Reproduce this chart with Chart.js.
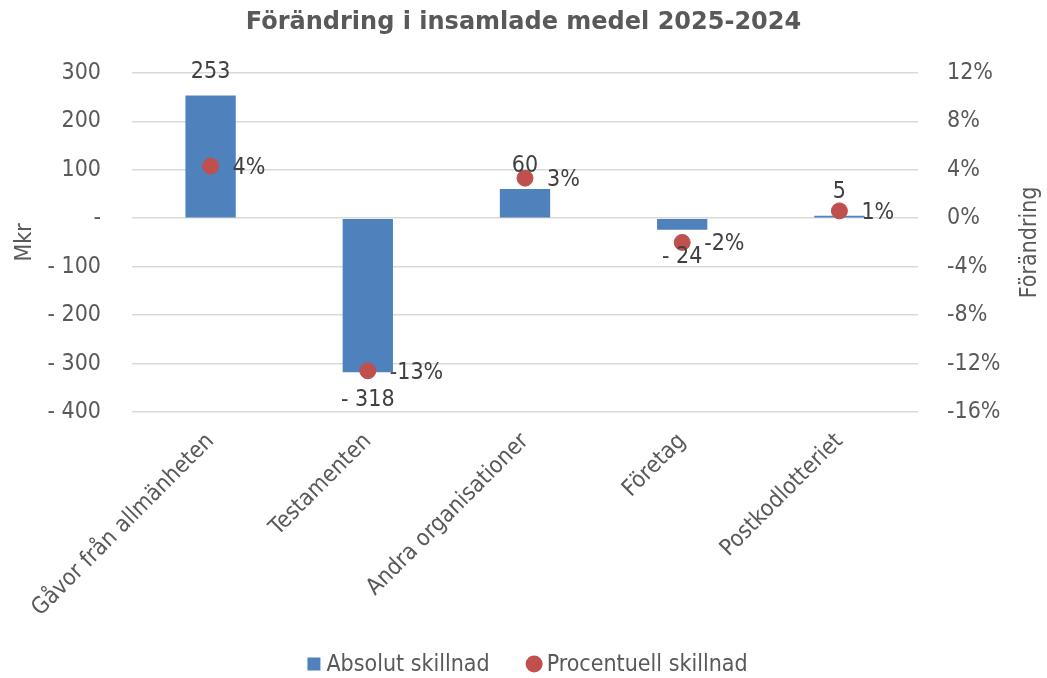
<!DOCTYPE html>
<html lang="sv">
<head>
<meta charset="utf-8">
<script src="https://cdn.jsdelivr.net/npm/chart.js@4/dist/chart.umd.min.js"></script>
<style>
  html, body { margin: 0; padding: 0; background: #fff; }
  #wrap { width: 1047px; height: 678px; position: relative; }
</style>
</head>
<body>
<div id="wrap"><canvas id="chart"></canvas></div>
<script>
// --- DATA ---
const categories = ['Gåvor från allmänheten', 'Testamenten', 'Andra organisationer', 'Företag', 'Postkodlotteriet'];
const absolutSkillnad = [253, -318, 60, -24, 5];          // Mkr
const procentuellSkillnad = [4.3, -12.6, 3.3, -2.0, 0.6]; // %
const procentEtiketter = ['4%', '-13%', '3%', '-2%', '1%'];

const FONT = '"DejaVu Sans Condensed", "DejaVu Sans", sans-serif';
const GREY = '#595959';
const SIZE = 23;
const BLUE = '#4F81BD';
const RED = '#C0504D';

// Etiketter för staplar, punkter, axeltitlar och förklaring
const dataLabels = {
  id: 'dataLabels',
  afterDraw(chart) {
    const ctx = chart.ctx;
    const area = chart.chartArea;
    ctx.save();
    ctx.font = SIZE + 'px ' + FONT;
    ctx.fillStyle = '#404040';

    chart.getDatasetMeta(0).data.forEach((bar, i) => {
      const v = absolutSkillnad[i];
      ctx.textAlign = 'center';
      if (v >= 0) {
        ctx.textBaseline = 'bottom';
        ctx.fillText(String(v), bar.x, bar.y - 12);
      } else {
        ctx.textBaseline = 'top';
        ctx.fillText('- ' + Math.abs(v), bar.x, bar.y + 16);
      }
    });

    chart.getDatasetMeta(1).data.forEach((pt, i) => {
      ctx.textAlign = 'left';
      ctx.textBaseline = 'middle';
      ctx.fillText(procentEtiketter[i], pt.x + 22, pt.y + 2);
    });

    // axeltitlar, båda läses nerifrån och upp
    ctx.fillStyle = GREY;
    ctx.textAlign = 'center';
    ctx.textBaseline = 'middle';
    const midY = (area.top + area.bottom) / 2;
    [[25, 'Mkr'], [1030, 'Förändring']].forEach(([x, t]) => {
      ctx.save();
      ctx.translate(x, midY);
      ctx.rotate(-Math.PI / 2);
      ctx.fillText(t, 0, 0);
      ctx.restore();
    });

    // förklaring längst ner
    const l1 = chart.data.datasets[0].label;
    const l2 = chart.data.datasets[1].label;
    const w1 = ctx.measureText(l1).width;
    const w2 = ctx.measureText(l2).width;
    const total = 13 + 6 + w1 + 36 + 17 + 4 + w2;
    let x = chart.width / 2 - total / 2 + 4;
    const y = 664;
    ctx.textAlign = 'left';
    ctx.fillStyle = BLUE;
    ctx.fillRect(x, y - 6.5, 13, 13);
    x += 19;
    ctx.fillStyle = GREY;
    ctx.fillText(l1, x, y + 1);
    x += w1 + 36;
    ctx.fillStyle = RED;
    ctx.beginPath();
    ctx.arc(x + 8.5, y, 8.5, 0, Math.PI * 2);
    ctx.fill();
    x += 21;
    ctx.fillStyle = GREY;
    ctx.fillText(l2, x, y + 1);
    ctx.restore();
  }
};

const chart = new Chart(document.getElementById('chart'), {
  type: 'bar',
  data: {
    labels: categories,
    datasets: [
      {
        type: 'bar',
        label: 'Absolut skillnad',
        data: absolutSkillnad,
        yAxisID: 'y',
        backgroundColor: BLUE,
        borderColor: BLUE,
        categoryPercentage: 1,
        barPercentage: 0.32,
        order: 1
      },
      {
        type: 'scatter',
        label: 'Procentuell skillnad',
        data: procentuellSkillnad,
        yAxisID: 'y1',
        backgroundColor: RED,
        borderColor: RED,
        pointRadius: 8,
        pointStyle: 'circle',
        showLine: false,
        order: 0
      }
    ]
  },
  options: {
    responsive: true,
    maintainAspectRatio: false,
    animation: false,
    layout: { padding: 0 },
    plugins: {
      title: {
        display: true,
        text: 'Förändring i insamlade medel 2025-2024',
        color: GREY,
        font: { family: 'DejaVu Sans, sans-serif', size: 24, weight: 'bold' },
        padding: { top: 8, bottom: 36 }
      },
      legend: { display: false },
      tooltip: { enabled: false }
    },
    scales: {
      x: {
        type: 'category',
        offset: true,
        grid: { display: false },
        border: { display: false },
        afterFit: s => { s.height = 266; },
        ticks: {
          color: GREY,
          font: { family: FONT, size: SIZE },
          minRotation: 45,
          maxRotation: 45,
          padding: 8
        }
      },
      y: {
        position: 'left',
        min: -400,
        max: 300,
        afterFit: s => { s.width = 132; },
        ticks: {
          stepSize: 100,
          color: GREY,
          font: { family: FONT, size: SIZE },
          padding: 31,
          callback: v => v === 0 ? '-' : (v < 0 ? '- ' + Math.abs(v) : String(v))
        },
        grid: { color: '#D9D9D9', lineWidth: 1.5, drawTicks: false },
        border: { display: false }
      },
      y1: {
        position: 'right',
        min: -16,
        max: 12,
        afterFit: s => { s.width = 129; },
        ticks: {
          stepSize: 4,
          color: GREY,
          font: { family: FONT, size: SIZE },
          padding: 29,
          callback: v => v + '%'
        },
        grid: { display: false, drawTicks: false },
        border: { display: false }
      }
    }
  },
  plugins: [dataLabels]
});
</script>
</body>
</html>
